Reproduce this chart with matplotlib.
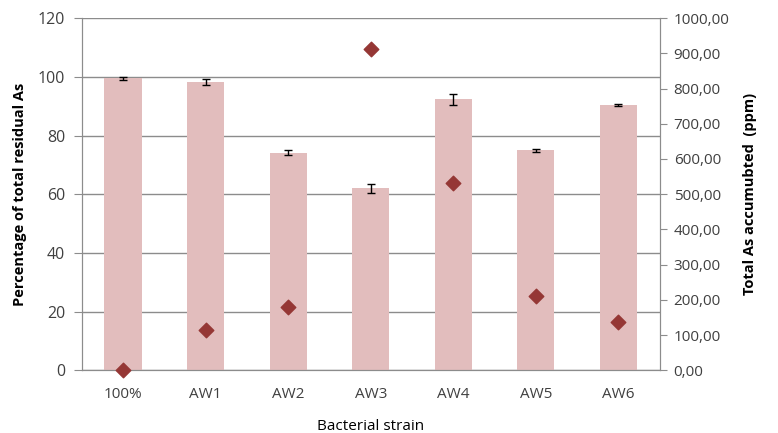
import numpy as np
import matplotlib
matplotlib.use('Agg')
import matplotlib.pyplot as plt
from matplotlib.ticker import FuncFormatter

plt.rcParams['font.family'] = ['Open Sans', 'DejaVu Sans']

strains = ['100%', 'AW1', 'AW2', 'AW3', 'AW4', 'AW5', 'AW6']
residual_pct = [99.5, 98.3, 74.2, 62.0, 92.3, 75.0, 90.3]
residual_err = [0.5, 1.0, 0.7, 1.5, 2.0, 0.5, 0.3]
accumulated_ppm = [0, 114, 179, 912, 531, 210, 136]

fig = plt.figure(figsize=(7.78, 4.33), dpi=100)
ax = fig.add_axes([0.105, 0.145, 0.743, 0.813])
x = np.arange(len(strains))

ax.bar(x, residual_pct, width=0.45, color='#e2bdbd', zorder=2)
ax.errorbar(x, residual_pct, yerr=residual_err, fmt='none', ecolor='black',
            elinewidth=1, capsize=3, capthick=1, zorder=3)
ax.set_ylim(0, 120)
ax.set_yticks(np.arange(0, 121, 20))
ax.set_xlim(-0.5, len(strains) - 0.5)
ax.set_xticks(x)
ax.set_xticklabels(strains)
ax.yaxis.grid(True, color='#8c8c8c', linewidth=1)
ax.set_axisbelow(True)
ax.tick_params(axis='x', length=0, pad=12, labelsize=11, colors='#404040')
ax.tick_params(axis='y', length=6, direction='out', color='#8c8c8c', labelsize=11.5, labelcolor='#404040', pad=6)
ax.spines['top'].set_visible(False)
for s in ['left', 'bottom', 'right']:
    ax.spines[s].set_color('#8c8c8c')
ax.set_xlabel('Bacterial strain', fontsize=11, labelpad=12)
ax.set_ylabel('Percentage of total residual As', fontsize=10.5, fontweight='bold', labelpad=8)

ax2 = ax.twinx()
ax2.scatter(x, accumulated_ppm, marker='D', s=55, color='#953735', zorder=4, clip_on=False)
ax2.set_ylim(0, 1000)
ax2.set_yticks(np.arange(0, 1001, 100))
ax2.yaxis.set_major_formatter(FuncFormatter(lambda v, p: f'{v:.2f}'.replace('.', ',')))
ax2.tick_params(axis='y', length=5, direction='out', color='#8c8c8c', labelsize=11, labelcolor='#404040', pad=5)
ax2.spines['top'].set_visible(False)
for s in ['left', 'bottom', 'right']:
    ax2.spines[s].set_color('#8c8c8c')
ax2.set_ylabel('Total As accumubted  (ppm)', fontsize=10.5, fontweight='bold', labelpad=10)

fig.savefig('out.png', dpi=100)
